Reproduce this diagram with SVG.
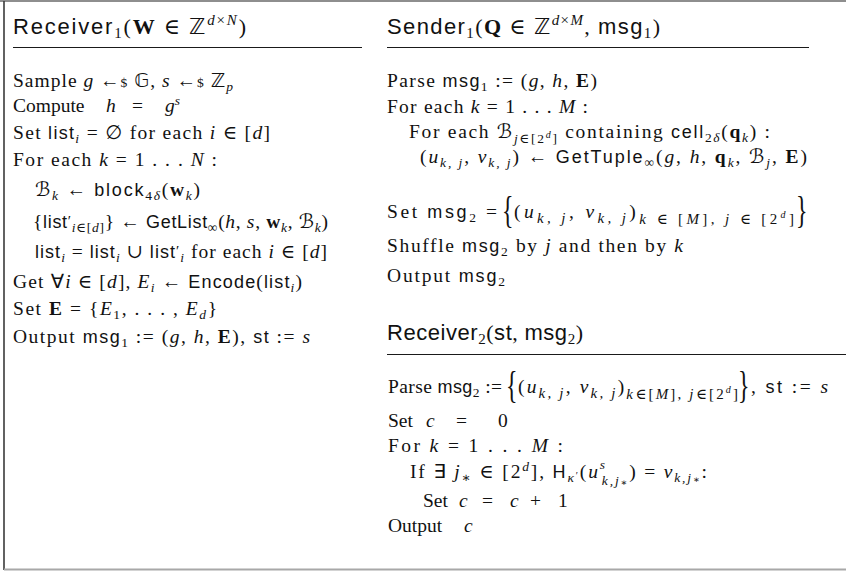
<svg xmlns="http://www.w3.org/2000/svg" width="846" height="571" viewBox="0 0 846 571">
  <style>
    .t{font-family:"Liberation Serif","DejaVu Serif",serif;font-size:19.5px;fill:#111}
    .h{font-size:22px}
    .i{font-style:italic}
    .b{font-weight:bold}
    .f{font-family:"Liberation Sans","DejaVu Sans",sans-serif;font-size:18px}
    .hf{font-size:22px}
    .s{font-size:13.5px}
    .s2{font-size:15px}
    .s4{font-size:15px}
    .s3{font-size:10px}
    .m{font-family:"DejaVu Sans",sans-serif}
    .big{font-family:"Liberation Serif","DejaVu Serif",serif;font-size:24px;fill:#111}
    .rule{stroke:#1a1a1a;stroke-width:1.2}
  </style>

  <!-- frame -->
  <g id="frame">
    <line x1="0" y1="1" x2="846" y2="1" stroke="#8e8e8e" stroke-width="2"/>
    <line x1="4" y1="1" x2="4" y2="570" stroke="#3a3a3a" stroke-width="1.6"/>
    <line x1="4" y1="569.5" x2="846" y2="569.5" stroke="#a8a8a8" stroke-width="2"/>
  </g>

  <!-- first receiver step -->
  <g id="receiver1">
    <text class="t h" x="13" y="34" textLength="233" lengthAdjust="spacing"><tspan class="f hf">Receiver</tspan><tspan class="s2" dy="4">1</tspan><tspan dy="-4">(</tspan><tspan class="b">W</tspan> ∈ <tspan class="m">ℤ</tspan><tspan class="s2" dy="-9"><tspan class="i">d</tspan>×<tspan class="i">N</tspan></tspan><tspan dy="9">)</tspan></text>
    <line class="rule" x1="13" y1="47.5" x2="362" y2="47.5"/>

    <text class="t" x="13" y="87" textLength="220" lengthAdjust="spacing">Sample <tspan class="i">g</tspan> ←<tspan class="s">$</tspan> <tspan class="m">𝔾</tspan>, <tspan class="i">s</tspan> ←<tspan class="s">$</tspan> <tspan class="m">ℤ</tspan><tspan class="s i" dy="4">p</tspan></text>
    <text class="t" x="13" y="112">Compute<tspan class="i" x="106">h</tspan><tspan x="132">=</tspan><tspan class="i" x="165">g</tspan><tspan class="s i" dy="-7">s</tspan></text>
    <text class="t" x="13" y="139" textLength="257" lengthAdjust="spacing">Set <tspan class="f">list</tspan><tspan class="s i" dy="4">i</tspan><tspan dy="-4"> = </tspan><tspan class="m">∅</tspan> for each <tspan class="i">i</tspan> ∈ [<tspan class="i">d</tspan>]</text>
    <text class="t" x="13" y="166" textLength="204" lengthAdjust="spacing">For each <tspan class="i">k</tspan> = 1 . . . <tspan class="i">N</tspan> :</text>
    <text class="t" x="35" y="196" textLength="165" lengthAdjust="spacing"><tspan class="m i">ℬ</tspan><tspan class="s i" dy="4">k</tspan><tspan dy="-4"> ← </tspan><tspan class="f">block</tspan><tspan class="s" dy="4">4<tspan class="i">δ</tspan></tspan><tspan dy="-4">(</tspan><tspan class="b">w</tspan><tspan class="s i" dy="4">k</tspan><tspan dy="-4">)</tspan></text>
    <text class="t" x="33" y="228" textLength="295" lengthAdjust="spacing">{<tspan class="f">list</tspan><tspan class="s2" dy="-2">′</tspan><tspan class="s" dy="6"><tspan class="i">i</tspan>∈[<tspan class="i">d</tspan>]</tspan><tspan dy="-4">} ← </tspan><tspan class="f">GetList</tspan><tspan class="s" dy="4">∞</tspan><tspan dy="-4">(</tspan><tspan class="i">h</tspan>, <tspan class="i">s</tspan>, <tspan class="b">w</tspan><tspan class="s i" dy="4">k</tspan><tspan dy="-4">, </tspan><tspan class="m i">ℬ</tspan><tspan class="s i" dy="4">k</tspan><tspan dy="-4">)</tspan></text>
    <text class="t" x="35" y="258" textLength="292" lengthAdjust="spacing"><tspan class="f">list</tspan><tspan class="s i" dy="4">i</tspan><tspan dy="-4"> = </tspan><tspan class="f">list</tspan><tspan class="s i" dy="4">i</tspan><tspan dy="-4"> ∪ </tspan><tspan class="f">list</tspan><tspan class="s2" dy="-2">′</tspan><tspan class="s i" dy="6">i</tspan><tspan dy="-4"> for each </tspan><tspan class="i">i</tspan> ∈ [<tspan class="i">d</tspan>]</text>
    <text class="t" x="13" y="288" textLength="289" lengthAdjust="spacing">Get <tspan class="m">∀</tspan><tspan class="i">i</tspan> ∈ [<tspan class="i">d</tspan>], <tspan class="i">E</tspan><tspan class="s i" dy="4">i</tspan><tspan dy="-4"> ← </tspan><tspan class="f">Encode</tspan>(<tspan class="f">list</tspan><tspan class="s i" dy="4">i</tspan><tspan dy="-4">)</tspan></text>
    <text class="t" x="13" y="315" textLength="204" lengthAdjust="spacing">Set <tspan class="b">E</tspan> = {<tspan class="i">E</tspan><tspan class="s" dy="4">1</tspan><tspan dy="-4">, . . . , </tspan><tspan class="i">E</tspan><tspan class="s i" dy="4">d</tspan><tspan dy="-4">}</tspan></text>
    <text class="t" x="13" y="343" textLength="297" lengthAdjust="spacing">Output <tspan class="f">msg</tspan><tspan class="s" dy="4">1</tspan><tspan dy="-4"> := (</tspan><tspan class="i">g</tspan>, <tspan class="i">h</tspan>, <tspan class="b">E</tspan>), <tspan class="f">st</tspan> := <tspan class="i">s</tspan></text>
  </g>

  <!-- sender step -->
  <g id="sender1">
    <text class="t h" x="387" y="34" textLength="273" lengthAdjust="spacing"><tspan class="f hf">Sender</tspan><tspan class="s2" dy="4">1</tspan><tspan dy="-4">(</tspan><tspan class="b">Q</tspan> ∈ <tspan class="m">ℤ</tspan><tspan class="s2" dy="-9"><tspan class="i">d</tspan>×<tspan class="i">M</tspan></tspan><tspan dy="9">, </tspan><tspan class="f hf">msg</tspan><tspan class="s2" dy="4">1</tspan><tspan dy="-4">)</tspan></text>
    <line class="rule" x1="387" y1="47.5" x2="809" y2="47.5"/>

    <text class="t" x="387" y="87" textLength="210" lengthAdjust="spacing">Parse <tspan class="f">msg</tspan><tspan class="s" dy="4">1</tspan><tspan dy="-4"> := (</tspan><tspan class="i">g</tspan>, <tspan class="i">h</tspan>, <tspan class="b">E</tspan>)</text>
    <text class="t" x="387" y="113" textLength="201" lengthAdjust="spacing">For each <tspan class="i">k</tspan> = 1 . . . <tspan class="i">M</tspan> :</text>
    <text class="t" x="409" y="138" textLength="361" lengthAdjust="spacing">For each <tspan class="m i">ℬ</tspan><tspan class="s" dy="5"><tspan class="i">j</tspan>∈[2</tspan><tspan class="s3 i" dy="-5">d</tspan><tspan class="s" dy="5">]</tspan><tspan dy="-5"> containing </tspan><tspan class="f">cell</tspan><tspan class="s" dy="4">2<tspan class="i">δ</tspan></tspan><tspan dy="-4">(</tspan><tspan class="b">q</tspan><tspan class="s i" dy="4">k</tspan><tspan dy="-4">) :</tspan></text>
    <text class="t" x="420" y="163" textLength="387" lengthAdjust="spacing">(<tspan class="i">u</tspan><tspan class="s i" dy="4">k, j</tspan><tspan dy="-4">, </tspan><tspan class="i">v</tspan><tspan class="s i" dy="4">k, j</tspan><tspan dy="-4">) ← </tspan><tspan class="f">GetTuple</tspan><tspan class="s" dy="4">∞</tspan><tspan dy="-4">(</tspan><tspan class="i">g</tspan>, <tspan class="i">h</tspan>, <tspan class="b">q</tspan><tspan class="s i" dy="4">k</tspan><tspan dy="-4">, </tspan><tspan class="m i">ℬ</tspan><tspan class="s i" dy="4">j</tspan><tspan dy="-4">, </tspan><tspan class="b">E</tspan>)</text>

    <text class="t" x="387" y="218" textLength="110" lengthAdjust="spacing">Set <tspan class="f">msg</tspan><tspan class="s" dy="4">2</tspan><tspan dy="-4"> =</tspan></text>
    <text class="big" transform="translate(502 223) scale(1 1.55)">{</text>
    <text class="t" x="514" y="218" textLength="280" lengthAdjust="spacing">(<tspan class="i">u</tspan><tspan class="s4 i" dy="5">k, j</tspan><tspan dy="-5">, </tspan><tspan class="i">v</tspan><tspan class="s4 i" dy="5">k, j</tspan><tspan dy="-5">)</tspan><tspan class="s4" dy="6"><tspan class="i">k</tspan> ∈ [<tspan class="i">M</tspan>], <tspan class="i">j</tspan> ∈ [2</tspan><tspan class="s3 i" dy="-6">d</tspan><tspan class="s4" dy="6">]</tspan></text>
    <text class="big" transform="translate(796 223) scale(1 1.55)">}</text>

    <text class="t" x="387" y="252" textLength="296" lengthAdjust="spacing">Shuffle <tspan class="f">msg</tspan><tspan class="s" dy="4">2</tspan><tspan dy="-4"> by </tspan><tspan class="i">j</tspan> and then by <tspan class="i">k</tspan></text>
    <text class="t" x="387" y="282" textLength="118" lengthAdjust="spacing">Output <tspan class="f">msg</tspan><tspan class="s" dy="4">2</tspan></text>
  </g>

  <!-- second receiver step -->
  <g id="receiver2">
    <text class="t h" x="387" y="340" textLength="196" lengthAdjust="spacing"><tspan class="f hf">Receiver</tspan><tspan class="s2" dy="4">2</tspan><tspan dy="-4">(</tspan><tspan class="f hf">st</tspan>, <tspan class="f hf">msg</tspan><tspan class="s2" dy="4">2</tspan><tspan dy="-4">)</tspan></text>
    <line class="rule" x1="387" y1="354.5" x2="846" y2="354.5"/>

    <text class="t" x="388" y="393" textLength="114" lengthAdjust="spacing">Parse <tspan class="f">msg</tspan><tspan class="s" dy="4">2</tspan><tspan dy="-4"> :=</tspan></text>
    <text class="big" transform="translate(506 398) scale(1 1.55)">{</text>
    <text class="t" x="518" y="393" textLength="220" lengthAdjust="spacing">(<tspan class="i">u</tspan><tspan class="s4 i" dy="5">k, j</tspan><tspan dy="-5">, </tspan><tspan class="i">v</tspan><tspan class="s4 i" dy="5">k, j</tspan><tspan dy="-5">)</tspan><tspan class="s4" dy="6"><tspan class="i">k</tspan>∈[<tspan class="i">M</tspan>], <tspan class="i">j</tspan>∈[2</tspan><tspan class="s3 i" dy="-6">d</tspan><tspan class="s4" dy="6">]</tspan></text>
    <text class="big" transform="translate(738 398) scale(1 1.55)">}</text>
    <text class="t" x="751" y="393" textLength="77" lengthAdjust="spacing">, <tspan class="f">st</tspan> := <tspan class="i">s</tspan></text>

    <text class="t" x="388" y="427">Set<tspan class="i" x="426">c</tspan><tspan x="456">=</tspan><tspan x="498">0</tspan></text>
    <text class="t" x="388" y="452" textLength="175" lengthAdjust="spacing">For <tspan class="i">k</tspan> = 1 . . . <tspan class="i">M</tspan> :</text>
    <text class="t" x="410" y="478" textLength="297" lengthAdjust="spacing">If <tspan class="m">∃</tspan> <tspan class="i">j</tspan><tspan class="s" dy="4">∗</tspan><tspan dy="-4"> ∈ [2</tspan><tspan class="s i" dy="-7">d</tspan><tspan dy="7">], </tspan><tspan class="f">H</tspan><tspan class="s i" dy="4">κ</tspan><tspan class="s3" dy="-3">′</tspan><tspan dy="-1">(</tspan><tspan class="i">u</tspan><tspan class="s i" dy="-9">s</tspan><tspan class="s i" dx="-5" dy="16">k,j</tspan><tspan class="s3" dy="1">∗</tspan><tspan dy="-8">) = </tspan><tspan class="i">v</tspan><tspan class="s i" dy="4">k,j</tspan><tspan class="s3" dy="1">∗</tspan><tspan dy="-5">:</tspan></text>
    <text class="t" x="423" y="507">Set<tspan class="i" x="459">c</tspan><tspan x="482">=</tspan><tspan class="i" x="510">c</tspan><tspan x="530">+</tspan><tspan x="558">1</tspan></text>
    <text class="t" x="388" y="532">Output<tspan class="i" x="464">c</tspan></text>
  </g>
</svg>
